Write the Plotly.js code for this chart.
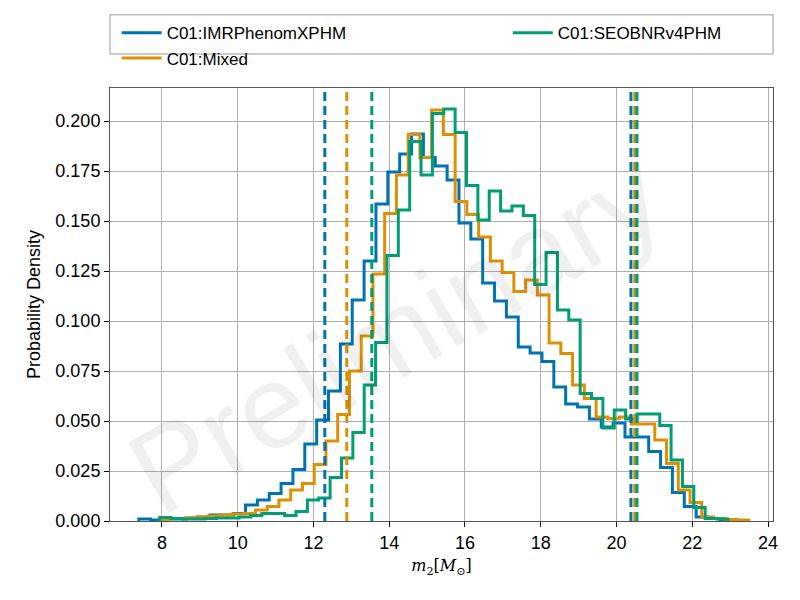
<!DOCTYPE html>
<html>
<head>
<script src="https://cdn.plot.ly/plotly-3.0.1.min.js"></script>
<style>body{margin:0;background:#fff}#plot{width:800px;height:600px}</style>
</head>
<body>
<div id="plot"></div>
<script>
// histogram heights per bin, bin start and width per run
const namesRun = ['C01:IMRPhenomXPHM', 'C01:Mixed', 'C01:SEOBNRv4PHM'];
const colorsRun = ['#0173b2', '#de8f05', '#029e73'];

const blueStart = 7.39, blueWidth = 0.313;
const blueVals = [0.001,0.0005,0.001,0.001,0.0015,0.002,0.003,0.003,0.0038,0.008,
  0.0105,0.0138,0.0188,0.0258,0.0385,0.0505,0.065,0.0885,0.1105,0.130,
  0.1585,0.1745,0.1835,0.1935,0.1817,0.1775,0.1705,0.149,0.141,0.119,
  0.110,0.102,0.087,0.084,0.0797,0.067,0.0585,0.057,0.051,0.047,
  0.049,0.042,0.042,0.0347,0.0268,0.0143,0.0072,0.002,0.0013,0.0005];

const orangeStart = 7.99, orangeWidth = 0.31;
const orangeVals = [0.001,0.0012,0.0015,0.002,0.0025,0.003,0.0035,0.0038,0.0055,0.0073,
  0.0105,0.0155,0.0188,0.0283,0.040,0.0533,0.075,0.0925,0.1235,0.1538,
  0.173,0.1933,0.1817,0.2055,0.1933,0.1597,0.1533,0.142,0.130,0.1243,
  0.1147,0.1205,0.113,0.089,0.0838,0.068,0.0613,0.052,0.0513,0.052,
  0.0485,0.0485,0.0405,0.0288,0.0155,0.0092,0.002,0.0013,0.0008,0.0005];

const greenStart = 7.94, greenWidth = 0.30;
const greenVals = [0.0017,0.0012,0.001,0.001,0.0012,0.0015,0.0015,0.002,0.0027,0.0038,
  0.0038,0.0027,0.0047,0.0105,0.0115,0.0217,0.0315,0.0443,0.068,0.0892,
  0.1327,0.1555,0.1897,0.173,0.2038,0.206,0.1943,0.1677,0.1505,0.165,
  0.155,0.1575,0.1527,0.1183,0.1343,0.1055,0.1005,0.0638,0.0613,0.0465,
  0.0555,0.051,0.0535,0.0535,0.0477,0.0305,0.0172,0.0068,0.0013,0.001];

// 90% bounds (dashed lines)
const lowerBounds = [12.30, 12.88, 13.54];
const upperBounds = [20.38, 20.48, 20.54];

function stepTrace(name, color, start, width, vals, legend){
  var x = [start], y = [0];
  vals.forEach(function(v, i){ x.push(start + i*width); y.push(v); });
  var end = start + vals.length*width;
  x.push(end); y.push(vals[vals.length-1]);
  x.push(end); y.push(0);
  return {
    name: name, x: x, y: y, type: 'scatter', mode: 'lines',
    line: {shape: 'hv', color: color, width: 3},
    legend: legend
  };
}

var data = [
  stepTrace(namesRun[0], colorsRun[0], blueStart, blueWidth, blueVals, 'legend'),
  stepTrace(namesRun[1], colorsRun[1], orangeStart, orangeWidth, orangeVals, 'legend'),
  stepTrace(namesRun[2], colorsRun[2], greenStart, greenWidth, greenVals, 'legend2')
];

var shapes = [];
for (var i = 0; i < 3; i++){
  [lowerBounds[i], upperBounds[i]].forEach(function(b){
    shapes.push({type: 'line', xref: 'x', yref: 'paper', x0: b, x1: b, y0: 0, y1: 1,
      line: {color: colorsRun[i], width: 3, dash: '9px,5px'}});
  });
}
// legend frame
shapes.push({type: 'rect', xref: 'paper', yref: 'paper', x0: 0, x1: 1, y0: 1.0785, y1: 1.169,
  line: {color: '#999', width: 1}, fillcolor: 'rgba(0,0,0,0)'});

var legendFont = {size: 17, family: 'Liberation Sans, Arial, sans-serif'};

var layout = {
  width: 800, height: 600,
  margin: {l: 110, r: 27, t: 88, b: 79},
  paper_bgcolor: '#fff', plot_bgcolor: '#fff',
  font: {family: 'Liberation Sans, Arial, sans-serif', size: 18, color: '#000'},
  xaxis: {
    range: [6.63, 24.13], tickvals: [8,10,12,14,16,18,20,22,24],
    showgrid: true, gridcolor: '#b0b0b0', gridwidth: 1,
    showline: true, linecolor: '#555', mirror: true, zeroline: false,
    ticks: 'outside', ticklen: 5, tickcolor: '#000',
    title: {text: '<i>m</i><sub>2</sub>[<i>M</i><sub>⊙</sub>]', font: {family: 'DejaVu Serif', size: 16}, standoff: 8}
  },
  yaxis: {
    range: [0, 0.2165], tickvals: [0,0.025,0.05,0.075,0.1,0.125,0.15,0.175,0.2], tickformat: '.3f',
    showgrid: true, gridcolor: '#b0b0b0', gridwidth: 1,
    showline: true, linecolor: '#555', mirror: true, zeroline: false,
    ticks: 'outside', ticklen: 5, tickcolor: '#000',
    title: {text: 'Probability Density', font: {size: 18}, standoff: 10}
  },
  legend: {
    x: 0.01, xanchor: 'left', y: 1.168, yanchor: 'top',
    bgcolor: 'rgba(0,0,0,0)', font: legendFont, tracegroupgap: 0, itemwidth: 40
  },
  legend2: {
    x: 0.6, xanchor: 'left', y: 1.168, yanchor: 'top',
    bgcolor: 'rgba(0,0,0,0)', font: legendFont, itemwidth: 40
  },
  shapes: shapes,
  annotations: [{
    text: 'Preliminary', xref: 'paper', yref: 'paper', x: 0.43, y: 0.43,
    showarrow: false, textangle: -30,
    font: {size: 118, color: 'rgba(0,0,0,0.06)', family: 'Liberation Sans, Arial, sans-serif'}
  }]
};

Plotly.newPlot('plot', data, layout, {displayModeBar: false, staticPlot: true});
</script>
</body>
</html>
